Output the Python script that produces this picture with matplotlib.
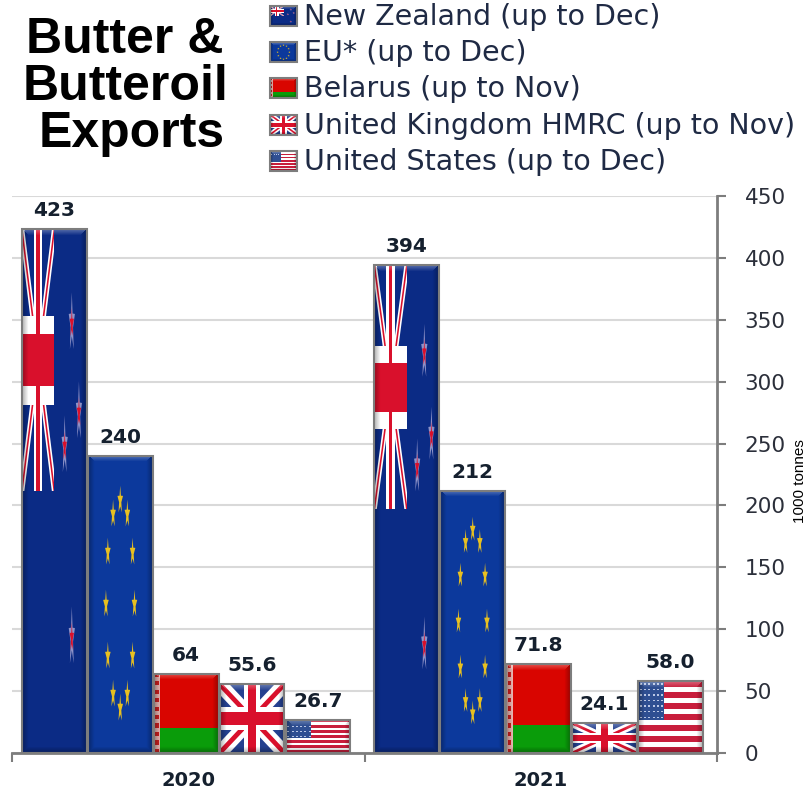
#!/usr/bin/env python
# -*- coding: utf-8 -*-
import matplotlib
matplotlib.use('Agg')
import matplotlib.pyplot as plt
from matplotlib.patches import Rectangle
import numpy as np

years = ['2020', '2021']
countries = ['nz', 'eu', 'by', 'uk', 'us']
legend_labels = ['New Zealand (up to Dec)', 'EU* (up to Dec)', 'Belarus (up to Nov)',
                 'United Kingdom HMRC (up to Nov)', 'United States (up to Dec)']
values_2020 = [423, 240, 64, 55.6, 26.7]
values_2021 = [394, 212, 71.8, 24.1, 58.0]
labels_2020 = ['423', '240', '64', '55.6', '26.7']
labels_2021 = ['394', '212', '71.8', '24.1', '58.0']
y_ticks = [0, 50, 100, 150, 200, 250, 300, 350, 400, 450]

NAVY = '#0b2b85'
EU_BLUE = '#0c399c'
RED = '#d9102c'
UK_BLUE = '#24408f'
GREY = '#7d7d7d'


def poly(ax, box, clip, pts, color, z=3):
    # pts are fractions of the box, v=0 is the top
    x0, x1, ytop, ybot = box
    xy = [(x0 + (x1 - x0) * u, ytop + (ybot - ytop) * v) for u, v in pts]
    p = ax.fill(*zip(*xy), color=color, lw=0, zorder=z)[0]
    p.set_clip_path(clip)


def rect(u0, u1, v0, v1):
    return [(u0, v0), (u1, v0), (u1, v1), (u0, v1)]


def star(u, v, ru, rv):
    pts = []
    for i in range(10):
        r = 1.0 if i % 2 == 0 else 0.4
        a = np.pi / 2 + i * np.pi / 5
        pts.append((u + ru * r * np.cos(a), v - rv * r * np.sin(a)))
    return pts


def make_clip(ax, box):
    x0, x1, ytop, ybot = box
    return Rectangle((x0, min(ytop, ybot)), x1 - x0, abs(ybot - ytop), transform=ax.transData)


def sub_box(box, u1, v1):
    x0, x1, ytop, ybot = box
    return (x0, x0 + (x1 - x0) * u1, ytop, ytop + (ybot - ytop) * v1)


def union_jack(ax, box, bar=0.5, thin=0.5):
    clip = make_clip(ax, box)
    poly(ax, box, clip, rect(0, 1, 0, 1), UK_BLUE if thin == 1 else NAVY)
    for d, col in [(0.15 * thin, 'white'), (0.05 * thin, RED)]:
        poly(ax, box, clip, [(-d, 0), (d, 0), (1 + d, 1), (1 - d, 1)], col)
        poly(ax, box, clip, [(1 - d, 0), (1 + d, 0), (d, 1), (-d, 1)], col)
    poly(ax, box, clip, rect(0.5 - 0.13 * bar, 0.5 + 0.13 * bar, 0, 1), 'white')
    poly(ax, box, clip, rect(0, 1, 0.33, 0.67), 'white')
    poly(ax, box, clip, rect(0.5 - 0.055 * bar, 0.5 + 0.055 * bar, 0, 1), RED)
    poly(ax, box, clip, rect(0, 1, 0.40, 0.60), RED)


def flag_nz(ax, box):
    clip = make_clip(ax, box)
    poly(ax, box, clip, rect(0, 1, 0, 1), NAVY)
    union_jack(ax, sub_box(box, 0.5, 0.5), bar=1.0)
    for u, v in [(0.77, 0.18), (0.88, 0.35), (0.66, 0.415), (0.77, 0.78)]:
        poly(ax, box, clip, star(u, v, 0.05, 0.06), '#8f93c8', z=4)
        poly(ax, box, clip, star(u, v, 0.035, 0.03), RED, z=4)


def flag_eu(ax, box):
    clip = make_clip(ax, box)
    poly(ax, box, clip, rect(0, 1, 0, 1), EU_BLUE)
    for i in range(12):
        a = i * np.pi / 6
        poly(ax, box, clip, star(0.5 + 0.22 * np.cos(a), 0.5 + 0.35 * np.sin(a), 0.045, 0.05),
             '#e8c020', z=4)


def flag_by(ax, box):
    clip = make_clip(ax, box)
    poly(ax, box, clip, rect(0, 1, 0, 0.68), '#d90500')
    poly(ax, box, clip, rect(0, 1, 0.68, 1), '#0a9c0a')
    poly(ax, box, clip, rect(0, 0.1, 0, 1), '#e9b4b0')
    x0, x1, ytop, ybot = box
    n = max(4, int(abs(ybot - ytop) / (x1 - x0) * 8))
    for i in range(n):
        poly(ax, box, clip, rect(0.02, 0.08, i / n, (i + 0.5) / n), '#cc2020', z=4)


def flag_uk(ax, box):
    union_jack(ax, box, bar=1.0, thin=1)


def flag_us(ax, box):
    clip = make_clip(ax, box)
    poly(ax, box, clip, rect(0, 1, 0, 1), 'white')
    for i in range(7):
        poly(ax, box, clip, rect(0, 1, i * 2 / 13, (i * 2 + 1) / 13), '#c81e3c')
    poly(ax, box, clip, rect(0, 0.4, 0, 7 / 13), '#2f4f92')
    for i in range(7):
        v = (i + 0.5) * (7 / 13) / 7
        for j in range(6):
            u = 0.03 + j * 0.065
            poly(ax, box, clip, rect(u, u + 0.03, v - 0.008, v + 0.008), '#b9c6e4', z=4)


def bevel(ax, box, edge=6):
    # soft pillow effect over the flag
    x0, x1, ytop, ybot = box
    px = ax.transData.transform([(x0, ytop), (x1, ybot)])
    w = max(int(abs(px[1][0] - px[0][0])), 2)
    h = max(int(abs(px[1][1] - px[0][1])), 2)
    yy, xx = np.mgrid[0:h, 0:w]
    side = np.minimum(np.minimum(xx, w - 1 - xx), h - 1 - yy)
    img = np.zeros((h, w, 4))
    img[..., 3] = 0.3 * np.clip(1 - side / edge, 0, 1)
    top = yy < np.minimum(edge, np.minimum(xx, w - 1 - xx))
    img[top, :3] = 1
    img[top, 3] = 0.3 * (1 - yy[top] / edge)
    ax.imshow(img, extent=(x0, x1, ybot, ytop), aspect='auto', origin='upper', zorder=5,
              interpolation='bilinear')


flags = {'nz': flag_nz, 'eu': flag_eu, 'by': flag_by, 'uk': flag_uk, 'us': flag_us}
bases = {'nz': NAVY, 'eu': EU_BLUE, 'by': '#d90500', 'uk': UK_BLUE, 'us': 'white'}

fig = plt.figure(figsize=(8.11, 7.91), dpi=100)
ax = fig.add_axes([12 / 811, (791 - 753) / 791, 705 / 811, 557 / 791])
ax.set_xlim(-0.5, 1.5)
ax.set_ylim(0, 450)
ax.autoscale(False)

bar_w = 0.184
step = 0.187
for g, (vals, labs) in enumerate([(values_2020, labels_2020), (values_2021, labels_2021)]):
    for i, c in enumerate(countries):
        x = g - 0.006 + (i - 2) * step
        ax.bar(x, vals[i], bar_w, color=bases[c], zorder=2)
        box = (x - bar_w / 2, x + bar_w / 2, vals[i], 0)
        flags[c](ax, box)
        bevel(ax, box)
        ax.bar(x, vals[i], bar_w, fill=False, edgecolor=GREY, linewidth=1.5, zorder=6)
        ax.annotate(labs[i], (x, vals[i]), xytext=(0, 6.5), textcoords='offset points',
                    ha='center', va='bottom', fontsize=14.5, fontweight='bold', color='#15202e')

ax.set_xlim(-0.5, 1.5)
ax.set_ylim(0, 450)
ax.yaxis.tick_right()
ax.set_yticks(y_ticks)
ax.tick_params(axis='y', length=6.5, width=1.5, color=GREY, pad=13.5, labelsize=15.5, labelcolor='#2b2f3a')
ax.set_xticks([-0.5, 0.5, 1.5])
ax.set_xticklabels([])
ax.set_xticks([0, 1], minor=True)
ax.set_xticklabels(years, minor=True, fontsize=14, fontweight='bold', color='#15202e')
ax.tick_params(axis='x', which='major', length=6.5, width=1.5, color=GREY)
ax.tick_params(axis='x', which='minor', length=0, pad=13)
ax.grid(axis='y', color='#d9d9d9', linewidth=1.5, zorder=0)
ax.set_axisbelow(True)
for s in ['top', 'left']:
    ax.spines[s].set_visible(False)
for s in ['right', 'bottom']:
    ax.spines[s].set_color(GREY)
    ax.spines[s].set_linewidth(2)

# overlay in pixel coordinates for title and legend
top = fig.add_axes([0, 0, 1, 1], facecolor='none')
top.set_xlim(0, 811)
top.set_ylim(791, 0)
top.autoscale(False)
top.axis('off')

title_font = ['Liberation Sans', 'DejaVu Sans']
for line, xc, yc in [('Butter &', 125, 40), ('Butteroil', 125, 87), ('Exports', 132, 134)]:
    top.text(xc, yc, line, ha='center', va='center', fontsize=36, fontweight='bold',
             family=title_font, color='black')

for i, c in enumerate(countries):
    yc = 16 + i * 36.2
    box = (270, 297, yc - 10, yc + 10)
    flags[c](top, box)
    bevel(top, box, edge=3)
    top.add_patch(Rectangle((270, yc - 10), 27, 20, fill=False, edgecolor=GREY, lw=1.5, zorder=6))
    top.text(304, yc + 1, legend_labels[i], ha='left', va='center', fontsize=20.5, color='#1f2a44')

top.text(800, 481, '1000 tonnes', rotation=90, ha='center', va='center', fontsize=11,
         family=['Liberation Sans Narrow', 'Liberation Sans'], color='black')

fig.savefig('out.png', dpi=100, facecolor='white')
